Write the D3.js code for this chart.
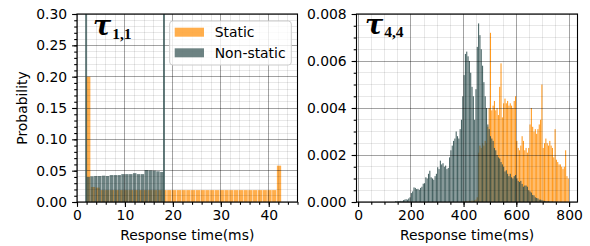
<!DOCTYPE html>
<html>
<head>
<meta charset="utf-8">
<script src="https://cdnjs.cloudflare.com/ajax/libs/d3/7.8.5/d3.min.js"></script>
<style>
  body { margin: 0; background: white; }
  svg text { font-family: "DejaVu Sans", sans-serif; }
</style>
</head>
<body>
<svg width="590" height="246"></svg>
<script>
// ---- data (probability per bin, bin edges in ms) ----
// tau 1,1
var leftStaticStart = 1.9, leftStaticWidth = 0.995;
var leftStatic = [0.200, 0.024, 0.023, 0.019, 0.019, 0.019, 0.019, 0.019, 0.019, 0.019,
                  0.019, 0.019, 0.019, 0.019, 0.019, 0.019, 0.019, 0.019, 0.019, 0.019,
                  0.019, 0.019, 0.019, 0.019, 0.019, 0.019, 0.019, 0.019, 0.019, 0.019,
                  0.019, 0.019, 0.019, 0.019, 0.019, 0.019, 0.019, 0.019, 0.019, 0.019,
                  0.058];
var leftNonStart = 1.95, leftNonWidth = 0.81;
var leftNon = [0.040, 0.041, 0.0415, 0.0415, 0.042, 0.0415, 0.043, 0.043, 0.043, 0.0445,
               0.0445, 0.0445, 0.046, 0.0445, 0.0445, 0.051, 0.0505, 0.050, 0.049, 0.048];
var leftMarks = [1.9, 18.15];   // min / max of non-static

// tau 4,4
var rightNonStart = 140, rightNonWidth = 5;
var rightNon = [0.00003, 0.00003, 0.00004, 0.00003, 0.00005, 0.00004, 0.00008, 0.0001, 0.00012, 0.0001,
                0.00015, 0.0002, 0.00038, 0.00045, 0.00062, 0.0006, 0.00055, 0.00056, 0.00052, 0.0006,
                0.00065, 0.00078, 0.0008, 0.00105, 0.001, 0.0012, 0.00133, 0.00105, 0.001, 0.00095,
                0.0011, 0.0012, 0.00148, 0.0014, 0.00176, 0.0016, 0.00165, 0.0015, 0.00155, 0.0014,
                0.00145, 0.0019, 0.0022, 0.0024, 0.0026, 0.0027, 0.003, 0.0028, 0.0027, 0.0031,
                0.0035, 0.0045, 0.0054, 0.0063, 0.0064, 0.0062, 0.006, 0.0055, 0.0049, 0.0045,
                0.0035, 0.0048, 0.0066, 0.0076, 0.0071, 0.0065, 0.0058, 0.0051, 0.0045, 0.004,
                0.0033, 0.0031, 0.0028, 0.0027, 0.0026, 0.0023, 0.0022, 0.002, 0.0019, 0.00185,
                0.0017, 0.0016, 0.0015, 0.0013, 0.00135, 0.0012, 0.0011, 0.0012, 0.00105, 0.001,
                0.0011, 0.00115, 0.001, 0.0009, 0.00085, 0.0009, 0.00077, 0.00065, 0.0007, 0.0007,
                0.00065, 0.0005, 0.00045, 0.0004, 0.0003, 0.00028, 0.0002, 0.00017, 0.00015, 0.0001,
                0.0001, 0.00008, 0.00006, 0.00005, 0.00004, 0.00003, 0.00003, 0.00002, 0.00002, 0.00002,
                0.00001, 0.00001, 0.00001, 0.00001];
var rightStaticStart = 400, rightStaticWidth = 5;
var rightStatic = [0.00003, 0.00002, 0.00004, 0.00003, 0.00005, 0.00004, 0.00006, 0.00005, 0.00008, 0.0001,
                   0.0002, 0.0021, 0.0024, 0.0023, 0.0025, 0.0024, 0.0026, 0.0025, 0.0032, 0.004,
                   0.0072, 0.0039, 0.0041, 0.0043, 0.0039, 0.004, 0.0037, 0.0049, 0.0059, 0.0036,
                   0.0042, 0.0044, 0.0042, 0.0043, 0.0041, 0.0042, 0.0041, 0.004, 0.0043, 0.0045,
                   0.0026, 0.0023, 0.0022, 0.0024, 0.0028, 0.0026, 0.0022, 0.0023, 0.0021, 0.0023,
                   0.0033, 0.004, 0.0032, 0.003, 0.0031, 0.0029, 0.0031, 0.0033, 0.0035, 0.005,
                   0.0023, 0.0025, 0.0027, 0.0025, 0.0024, 0.0026, 0.0024, 0.0023, 0.0019, 0.0031,
                   0.0018, 0.0017, 0.0016, 0.0016, 0.0015, 0.0014, 0.0015, 0.0022, 0.0011, 0.001];

// ticks
var leftXTicks = [0, 10, 20, 30, 40];
var leftXMinor = d3.range(0, 47, 2);
var leftYTicks = [0, 0.05, 0.10, 0.15, 0.20, 0.25, 0.30];
var leftYMinor = d3.range(0, 0.305, 0.01);
var rightXTicks = [0, 200, 400, 600, 800];
var rightXMinor = d3.range(0, 801, 50);
var rightYTicks = [0, 0.002, 0.004, 0.006, 0.008];
var rightYMinor = d3.range(0, 0.00801, 0.0005);

var seriesNames = ["Static", "Non-static"];
var orange = "#ff8c00", slate = "#2f4f4f";

var svg = d3.select("svg");
var FS = "13.9px";

var xL = d3.scaleLinear().domain([0, 46]).range([77, 297.5]);
var yL = d3.scaleLinear().domain([0, 0.30]).range([202, 14]);
var xR = d3.scaleLinear().domain([-6, 832]).range([356.5, 577.5]);
var yR = d3.scaleLinear().domain([0, 0.008]).range([202, 14]);

function bars(x, y, start, width, values, color, op, gap) {
  svg.append("g").selectAll("rect")
    .data(values)
    .enter().append("rect")
    .attr("x", function(d, i) { return x(start + i * width); })
    .attr("width", function(d, i) { return Math.max(0.2, x(start + (i + 1) * width) - x(start + i * width) - gap); })
    .attr("y", function(d) { return y(d); })
    .attr("height", function(d) { return y(0) - y(d); })
    .attr("fill", color)
    .attr("fill-opacity", op);
}

function crisp(v) { return Math.round(v - 0.5) + 0.5; }

function grid(x, y, xMaj, xMin, yMaj, yMin) {
  var g = svg.append("g");
  var x0 = x.range()[0], x1 = x.range()[1], y0 = y.range()[0], y1 = y.range()[1];
  g.selectAll(".vmin").data(xMin).enter().append("line")
    .attr("x1", function(d) { return crisp(x(d)); }).attr("x2", function(d) { return crisp(x(d)); })
    .attr("y1", y0).attr("y2", y1)
    .attr("stroke", "#000").attr("stroke-opacity", 0.09).attr("stroke-width", 1);
  g.selectAll(".hmin").data(yMin).enter().append("line")
    .attr("y1", function(d) { return crisp(y(d)); }).attr("y2", function(d) { return crisp(y(d)); })
    .attr("x1", x0).attr("x2", x1)
    .attr("stroke", "#000").attr("stroke-opacity", 0.09).attr("stroke-width", 1);
  g.selectAll(".vmaj").data(xMaj).enter().append("line")
    .attr("x1", function(d) { return crisp(x(d)); }).attr("x2", function(d) { return crisp(x(d)); })
    .attr("y1", y0).attr("y2", y1)
    .attr("stroke", "#000").attr("stroke-opacity", 0.3).attr("stroke-width", 1);
  g.selectAll(".hmaj").data(yMaj).enter().append("line")
    .attr("y1", function(d) { return crisp(y(d)); }).attr("y2", function(d) { return crisp(y(d)); })
    .attr("x1", x0).attr("x2", x1)
    .attr("stroke", "#000").attr("stroke-opacity", 0.3).attr("stroke-width", 1);
}

function axes(x, y, xMaj, xMin, yMaj, yMin, yFmt, xFmt) {
  var b = y.range()[0], l = x.range()[0];
  var ax = svg.append("g").attr("transform", "translate(0," + b + ")")
    .call(d3.axisBottom(x).tickValues(xMaj).tickSize(4.9).tickPadding(3.6).tickFormat(d3.format(xFmt)));
  var axm = svg.append("g").attr("transform", "translate(0," + b + ")")
    .call(d3.axisBottom(x).tickValues(xMin).tickSize(2.8).tickFormat(""));
  var ay = svg.append("g").attr("transform", "translate(" + l + ",0)")
    .call(d3.axisLeft(y).tickValues(yMaj).tickSize(4.9).tickPadding(4.9).tickFormat(d3.format(yFmt)));
  var aym = svg.append("g").attr("transform", "translate(" + l + ",0)")
    .call(d3.axisLeft(y).tickValues(yMin).tickSize(2.8).tickFormat(""));
  [ax, axm, ay, aym].forEach(function(a) {
    a.select(".domain").remove();
    a.selectAll("line").attr("stroke-width", 1.1);
    a.selectAll("text").attr("font-size", FS).attr("font-family", "DejaVu Sans").attr("fill", "#000");
  });
  svg.append("rect")
    .attr("x", x.range()[0]).attr("y", y.range()[1])
    .attr("width", x.range()[1] - x.range()[0]).attr("height", y.range()[0] - y.range()[1])
    .attr("fill", "none").attr("stroke", "#000").attr("stroke-width", 1.1);
  svg.append("text")
    .attr("x", (x.range()[0] + x.range()[1]) / 2).attr("y", 240)
    .attr("text-anchor", "middle").attr("font-size", FS)
    .text("Response time(ms)");
}

function tau(xp, yp, sub) {
  var t = svg.append("text").attr("x", xp).attr("y", yp)
    .attr("font-weight", "bold")
    .style("font-family", "DejaVu Serif").attr("font-size", "27px");
  t.append("tspan").attr("font-style", "italic").text("τ");
  t.append("tspan").attr("font-size", "15.5px")
    .style("font-family", "Liberation Serif")
    .attr("dy", 3.6).attr("dx", 1).text(sub);
}

// left panel
bars(xL, yL, leftStaticStart, leftStaticWidth, leftStatic, orange, 0.7, 0.5);
bars(xL, yL, leftNonStart, leftNonWidth, leftNon, slate, 0.7, 0.4);
grid(xL, yL, leftXTicks, leftXMinor, leftYTicks, leftYMinor);
svg.append("g").selectAll("line").data(leftMarks).enter().append("line")
  .attr("x1", function(d) { return xL(d); }).attr("x2", function(d) { return xL(d); })
  .attr("y1", yL(0)).attr("y2", yL(0.30))
  .attr("stroke", slate).attr("stroke-opacity", 0.75).attr("stroke-width", 2);
axes(xL, yL, leftXTicks, leftXMinor, leftYTicks, leftYMinor, ".2f", "d");
tau(93, 35, "1,1");

svg.append("text")
  .attr("transform", "translate(26.5," + 108 + ") rotate(-90)")
  .attr("text-anchor", "middle").attr("font-size", FS)
  .text("Probability");

// legend
var lg = svg.append("g");
lg.append("rect").attr("x", 169.7).attr("y", 21).attr("width", 121.6).attr("height", 44)
  .attr("rx", 3).attr("fill", "#fff").attr("fill-opacity", 0.8)
  .attr("stroke", "#cccccc").attr("stroke-width", 1);
[orange, slate].forEach(function(c, i) {
  lg.append("rect").attr("x", 174.7).attr("y", 27.7 + i * 20.6).attr("width", 29.3).attr("height", 9)
    .attr("fill", c).attr("fill-opacity", 0.7);
  lg.append("text").attr("x", 214.7).attr("y", 37.3 + i * 20.6).attr("font-size", FS)
    .text(seriesNames[i]);
});

// right panel
bars(xR, yR, rightStaticStart, rightStaticWidth, rightStatic, orange, 0.88, 0.25);
bars(xR, yR, rightNonStart, rightNonWidth, rightNon, slate, 0.88, 0.25);
grid(xR, yR, rightXTicks, rightXMinor, rightYTicks, rightYMinor);
axes(xR, yR, rightXTicks, rightXMinor, rightYTicks, rightYMinor, ".3f", "d");
tau(365, 33.5, "4,4");
</script>
</body>
</html>
